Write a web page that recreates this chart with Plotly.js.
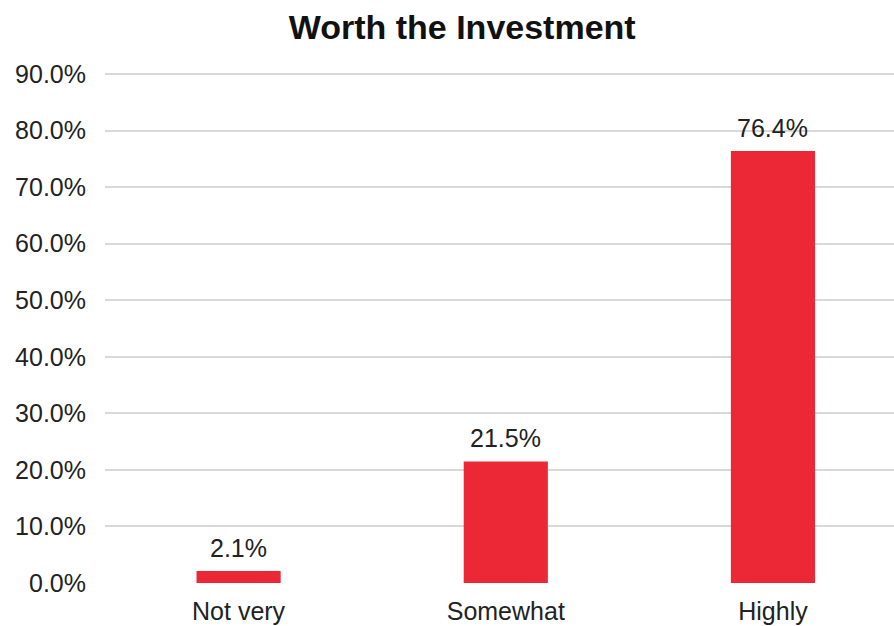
<!DOCTYPE html>
<html>
<head>
<meta charset="utf-8">
<script src="https://cdn.plot.ly/plotly-3.0.1.min.js"></script>
<style>html,body{margin:0;padding:0;background:#fff;}#chart{width:894px;height:626px;}</style>
</head>
<body>
<div id="chart"></div>
<script>
const categories = ["Not very", "Somewhat", "Highly"];
const values = [2.1, 21.5, 76.4];
const labels = ["2.1%", "21.5%", "76.4%"];
const yTickVals = [0, 10, 20, 30, 40, 50, 60, 70, 80, 90];
const yTickText = ["0.0%", "10.0%", "20.0%", "30.0%", "40.0%", "50.0%", "60.0%", "70.0%", "80.0%", "90.0%"];

const font = "Liberation Sans, Arial, sans-serif";
const xIdx = categories.map((c, i) => i);

const annotations = values.map((v, i) => ({
  x: xIdx[i], y: v, xref: "x", yref: "y",
  text: labels[i], showarrow: false,
  yanchor: "middle", yshift: 23,
  font: {family: font, size: 25, color: "#222"}
}));

Plotly.newPlot("chart", [{
  type: "bar",
  x: xIdx,
  y: values,
  marker: {color: "#EC2836"},
  width: 0.315,
  hoverinfo: "skip"
}], {
  width: 894, height: 626,
  margin: {l: 105, r: 0, t: 72, b: 43},
  paper_bgcolor: "#fff", plot_bgcolor: "#fff",
  showlegend: false,
  annotations: annotations,
  title: {text: "<b>Worth the Investment</b>", font: {family: font, size: 34, color: "#111"}, x: 0.517, xanchor: "center", y: 0.957, yanchor: "middle"},
  xaxis: {
    range: [-0.5, 2.453],
    tickvals: xIdx,
    ticktext: categories,
    showgrid: false, zeroline: false, showline: false,
    ticks: "", ticklabelstandoff: 11,
    tickfont: {family: font, size: 25, color: "#222"},
    fixedrange: true
  },
  yaxis: {
    range: [0, 90.35],
    tickvals: yTickVals,
    ticktext: yTickText,
    showgrid: true, gridcolor: "#D9D9D9", gridwidth: 2,
    zeroline: false, showline: false,
    ticks: "", ticklabelstandoff: 18,
    tickfont: {family: font, size: 25, color: "#222"},
    fixedrange: true
  }
}, {displayModeBar: false, staticPlot: true});
</script>
</body>
</html>
